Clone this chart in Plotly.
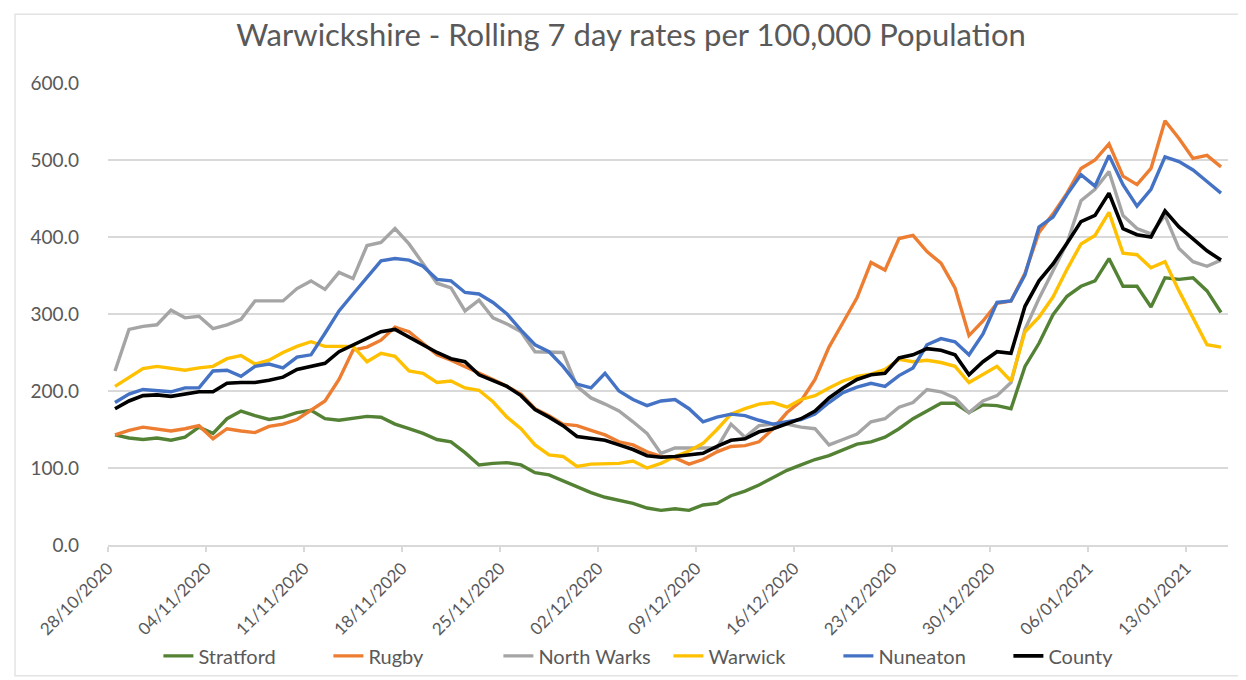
import pandas as pd
import plotly.graph_objects as go

dates = pd.date_range("2020-10-28", periods=80, freq="D")

stratford = [143, 139, 137, 139, 136, 140, 153, 145, 164, 174, 168, 163, 166, 172, 175, 164, 162, 164, 167, 166,
             157, 151, 145, 137, 134, 120, 104, 106, 107, 104, 94, 91, 83, 75, 68, 62, 58, 54, 48, 45,
             47, 45, 52, 54, 64, 70, 78, 88, 97, 104, 111, 116, 124, 131, 134, 140, 151, 164, 174, 184,
             184, 172, 182, 181, 177, 232, 262, 299, 323, 336, 343, 372, 336, 336, 309, 347, 345, 347, 330, 302]
rugby = [143, 149, 153, 151, 148, 151, 155, 138, 151, 148, 146, 154, 157, 163, 175, 187, 215, 253, 257, 266,
         283, 277, 262, 247, 240, 232, 223, 215, 206, 196, 177, 168, 157, 155, 149, 143, 134, 130, 121, 115,
         113, 105, 111, 121, 128, 129, 134, 151, 172, 187, 215, 257, 289, 321, 367, 357, 398, 402, 381, 366,
         334, 272, 291, 314, 317, 353, 406, 430, 457, 489, 500, 521, 479, 468, 489, 551, 528, 502, 506, 491]
north_warks = [226, 280, 284, 286, 305, 295, 297, 281, 286, 293, 317, 317, 317, 333, 343, 332, 354, 346, 389, 393,
               411, 391, 366, 340, 334, 304, 318, 295, 287, 277, 251, 250, 250, 206, 191, 183, 174, 160, 145, 119,
               126, 126, 126, 126, 157, 140, 155, 157, 157, 153, 151, 130, 137, 144, 160, 164, 179, 185, 202, 199,
               191, 172, 187, 194, 211, 280, 320, 355, 392, 447, 462, 485, 428, 411, 404, 428, 385, 368, 362, 370]
warwick = [206, 217, 229, 232, 229, 227, 230, 232, 242, 246, 235, 240, 250, 258, 264, 258, 258, 258, 238, 249,
           245, 226, 223, 211, 213, 204, 201, 186, 166, 151, 130, 117, 115, 102, 105, 106, 106, 109, 100, 106,
           115, 122, 132, 150, 170, 177, 183, 185, 179, 189, 194, 204, 213, 219, 222, 228, 241, 238, 240, 237,
           232, 211, 221, 232, 213, 277, 296, 322, 358, 391, 402, 432, 379, 377, 360, 368, 330, 296, 260, 257]
nuneaton = [185, 196, 202, 200, 199, 204, 204, 226, 227, 219, 232, 235, 230, 244, 247, 275, 304, 326, 347, 369,
            372, 370, 362, 345, 343, 328, 326, 315, 300, 279, 260, 251, 232, 209, 204, 223, 200, 189, 181, 187,
            189, 177, 160, 166, 170, 168, 162, 157, 160, 163, 170, 185, 198, 205, 210, 206, 220, 230, 260, 268,
            264, 247, 274, 315, 317, 351, 413, 426, 455, 481, 466, 506, 468, 440, 462, 504, 498, 487, 472, 457]
county = [177, 187, 194, 195, 193, 196, 199, 199, 210, 211, 211, 214, 218, 228, 232, 236, 251, 260, 268, 277,
          280, 270, 260, 250, 242, 238, 221, 214, 206, 194, 176, 166, 155, 141, 138, 136, 130, 124, 116, 114,
          115, 117, 119, 128, 136, 138, 147, 151, 157, 164, 174, 191, 204, 215, 221, 223, 243, 247, 255, 253,
          247, 221, 238, 251, 249, 310, 343, 365, 392, 420, 428, 457, 411, 403, 400, 434, 413, 398, 382, 370]

series = [
    ("Stratford", stratford, "#548235"),
    ("Rugby", rugby, "#ED7D31"),
    ("North Warks", north_warks, "#A5A5A5"),
    ("Warwick", warwick, "#FFC000"),
    ("Nuneaton", nuneaton, "#4472C4"),
    ("County", county, "#000000"),
]

fig = go.Figure()
for name, vals, col in series:
    fig.add_trace(go.Scatter(x=dates, y=vals, mode="lines", name=name,
                             line=dict(color=col, width=3.6 if name == "County" else 3.4)))

tick_dates = dates[::7]
tickvals = [d - pd.Timedelta(hours=12) for d in tick_dates]
ticktext = [d.strftime("%d/%m/%Y") for d in tick_dates]

font_family = "Lato, 'Open Sans', sans-serif"
fig.update_layout(
    width=1246, height=680,
    paper_bgcolor="white", plot_bgcolor="white",
    margin=dict(l=100, r=26, t=75, b=135),
    title=dict(text="Warwickshire - Rolling 7 day rates per 100,000 Population",
               x=0.5, xanchor="center", y=0.96, yanchor="middle",
               font=dict(family=font_family, size=31, color="#595959")),
    font=dict(family=font_family, size=17, color="#595959"),
    showlegend=True,
    legend=dict(orientation="h", x=0.045, xanchor="left", y=-0.240, yanchor="middle",
                font=dict(size=20, color="#595959"), tracegroupgap=0,
                entrywidth=125, entrywidthmode="pixels"),
    xaxis=dict(
        range=[dates[0] - pd.Timedelta(hours=12), dates[-1] + pd.Timedelta(hours=12)],
        tickmode="array", tickvals=tickvals, ticktext=ticktext,
        tickangle=-45, showgrid=False, zeroline=False,
        showline=True, linecolor="#D9D9D9", linewidth=1.5,
        ticks="outside", ticklen=5, tickcolor="#D9D9D9", tickwidth=1.5,
        tickfont=dict(size=17, color="#595959"),
    ),
    yaxis=dict(
        range=[0, 600], dtick=100, tickformat=".1f",
        showgrid=True, gridcolor="#D9D9D9", gridwidth=1.5,
        zeroline=False, showline=False, ticks="",
        tickfont=dict(size=19, color="#595959"), ticklabelstandoff=28,
    ),
    shapes=[dict(type="rect", xref="paper", yref="paper",
                 x0=-0.083, x1=1.02, y0=-0.283, y1=1.149,
                 line=dict(color="#E3E3E3", width=1.5), fillcolor="rgba(0,0,0,0)", layer="below")],
)

fig.write_html("out.html")
